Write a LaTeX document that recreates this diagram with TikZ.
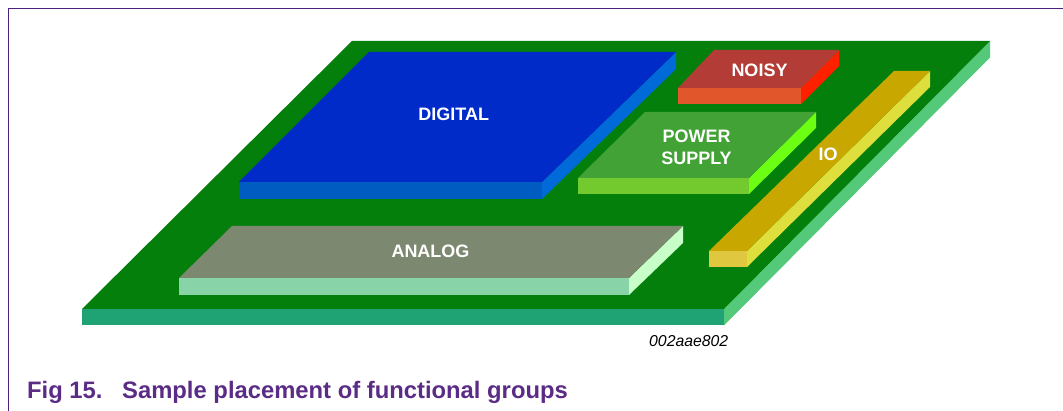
\documentclass[tikz,border=0pt]{standalone}
\usepackage{fontspec}
\setmainfont{Liberation Sans}
\definecolor{frame}{HTML}{4B2080}
\definecolor{captc}{HTML}{5B2C86}
\definecolor{boardtop}{HTML}{047F0C}
\definecolor{boardfront}{HTML}{1FA374}
\definecolor{boardside}{HTML}{55C97A}
\definecolor{digitaltop}{HTML}{002BC8}
\definecolor{digitalfront}{HTML}{005CC0}
\definecolor{digitalside}{HTML}{006BD8}
\definecolor{analogtop}{HTML}{7C8870}
\definecolor{analogfront}{HTML}{88D4A8}
\definecolor{analogside}{HTML}{C8FFC8}
\definecolor{noisytop}{HTML}{B33C36}
\definecolor{noisyfront}{HTML}{E2562C}
\definecolor{noisyside}{HTML}{FF2000}
\definecolor{powertop}{HTML}{42A235}
\definecolor{powerfront}{HTML}{72CA2E}
\definecolor{powerside}{HTML}{6CFF14}
\definecolor{iotop}{HTML}{C8A800}
\definecolor{iofront}{HTML}{DFC840}
\definecolor{ioside}{HTML}{DEDE3C}
% #1 BLx, #2 BRx, #3 bottom y, #4 TLx, #5 TRx, #6 top y, #7 thickness, #8 colour prefix
\newcommand\slab[8]{%
  \fill[#8front] (#1,#3) -- (#2,#3) -- (#2,#3+#7) -- (#1,#3+#7) -- cycle;
  \fill[#8side] (#2,#3) -- (#5,#6) -- (#5,#6+#7) -- (#2,#3+#7) -- cycle;
  \fill[#8top] (#1,#3) -- (#2,#3) -- (#5,#6) -- (#4,#6) -- cycle;
}
\tikzset{
  lbl/.style={text=white, inner sep=0pt, font=\fontsize{18}{22}\selectfont\bfseries},
}
\begin{document}
\begin{tikzpicture}[x=1pt,y=-1pt]
\useasboundingbox (0,0) rectangle (1063,411);
\fill[white] (0,0) rectangle (1063,411);
\draw[frame, line width=1.5pt] (1063,8.5) -- (8.5,8.5) -- (8.5,411);
% board
\slab{82}{724}{309}{352}{990}{41}{16.5}{board}
% blocks
\slab{239}{542}{182}{369}{676}{52}{17}{digital}
\slab{179}{629}{278}{232}{683}{226}{17}{analog}
\slab{678}{801}{88}{714}{839}{50}{16}{noisy}
\slab{578}{749}{178}{645}{816}{112}{16}{power}
\slab{709}{747}{251}{894}{930}{71}{16}{io}
% labels
\node[lbl, anchor=base] (digital) at (453.8,121) {DIGITAL};
\node[lbl, anchor=base] (analog) at (430.5,258) {ANALOG};
\node[lbl, anchor=base] (noisy) at (759.5,77) {NOISY};
\node[lbl, align=center, anchor=center] (power) at (696.5,147.5) {POWER\\SUPPLY};
\node[lbl, anchor=base] (io) at (828,161) {IO};
\node[anchor=base west, inner sep=0pt, font=\fontsize{15.8}{18}\selectfont\itshape] (code) at (649,347) {002aae802};
\node[anchor=base west, inner sep=0pt, text=captc, font=\fontsize{23.8}{28}\selectfont\bfseries] (caption) at (27,399) {\makebox[95pt][l]{Fig 15.}Sample placement of functional groups};
\end{tikzpicture}
\end{document}
